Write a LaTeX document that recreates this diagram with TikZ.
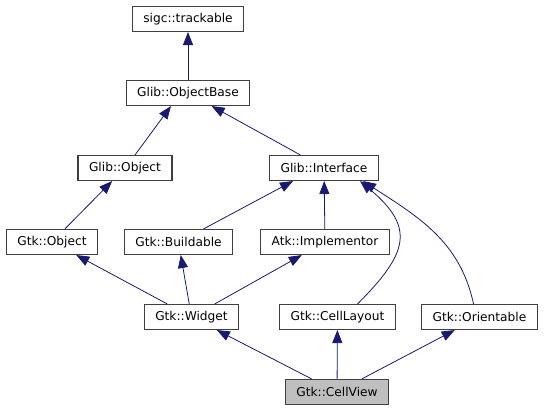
\documentclass[tikz,border=0pt]{standalone}
\usepackage{fontspec}
\setmainfont{DejaVu Sans}
\usepackage{tikz}
\usetikzlibrary{arrows.meta,positioning}
\definecolor{edgeblue}{HTML}{191970}
\definecolor{boxgray}{HTML}{404040}
\definecolor{curfill}{HTML}{BFBFBF}
\tikzset{every picture/.style={line width=0.8pt}}
\tikzstyle{cls}=[draw=boxgray,line width=1.1pt,fill=white,rectangle,minimum height=25pt,inner xsep=11pt,inner ysep=0pt,font=\fontsize{12.2}{14}\selectfont]
\tikzstyle{cur}=[cls,fill=curfill]

\begin{document}
\begin{tikzpicture}[x=1pt,y=-1pt]
\useasboundingbox (0,0) rectangle (545,411);
\node[cls] (track) at (188,19) {sigc::trackable};
\node[cls] (obase) at (188,93) {Glib::ObjectBase};
\node[cls] (gobj) at (125,168) {Glib::Object};
\node[cls] (iface) at (324,168) {Glib::Interface};
\node[cls] (gtkobj) at (52,242) {Gtk::Object};
\node[cls] (build) at (178.5,242) {Gtk::Buildable};
\node[cls] (impl) at (325,242) {Atk::Implementor};
\node[cls] (widget) at (191.5,317) {Gtk::Widget};
\node[cls] (layout) at (337.5,317) {Gtk::CellLayout};
\node[cls] (orient) at (479.5,317) {Gtk::Orientable};
\node[cur] (cview) at (337,392) {Gtk::CellView};
\path[->,>={Triangle[length=13pt,width=10pt]},every edge/.style={draw=edgeblue}]
(obase) edge (track)
([xshift=10pt]gobj.north) edge ([xshift=-17pt]obase.south)
(iface) edge (obase)
(gtkobj) edge (gobj)
([xshift=25pt]build.north) edge ([xshift=-31pt]iface.south)
(impl) edge (iface)
([xshift=20pt]layout.north) edge[out=45,in=-40,looseness=1.5] ([xshift=36pt]iface.south)
([xshift=-6pt]orient.north) edge[out=102,in=-33] ([xshift=39pt]iface.south)
(widget) edge (gtkobj)
(widget) edge (build)
(widget) edge (impl)
(cview) edge (widget)
(cview) edge (layout)
(cview) edge (orient);
\end{tikzpicture}
\end{document}
